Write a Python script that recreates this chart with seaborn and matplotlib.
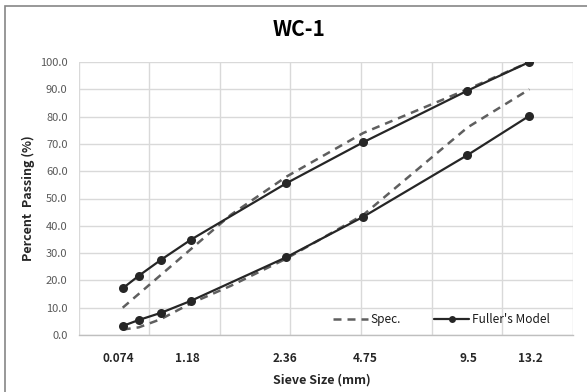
import numpy as np
import pandas as pd
import matplotlib
matplotlib.use("Agg")
import matplotlib.pyplot as plt
from matplotlib.lines import Line2D
from matplotlib.patches import Rectangle
import seaborn as sns

# Sieve sizes (mm) and percent passing
fuller_sizes = [0.075, 0.15, 0.3, 0.6, 2.36, 4.75, 9.5, 13.2]
fuller_upper = [17.1, 21.7, 27.5, 34.9, 55.6, 70.6, 89.5, 100.0]
fuller_lower = [3.3, 5.5, 8.1, 12.5, 28.5, 43.3, 65.9, 80.3]

spec_upper_sizes = [0.075, 1.18, 2.36, 4.75, 9.5, 13.2]
spec_upper = [10.0, 44.0, 58.0, 74.0, 90.0, 100.0]
spec_lower_sizes = [0.075, 0.15, 0.3, 0.6, 1.18, 2.36, 4.75, 9.5, 13.2]
spec_lower = [2.0, 2.8, 5.8, 11.6, 18.0, 28.0, 44.0, 76.0, 90.0]

tick_labels = ["0.074", "1.18", "2.36", "4.75", "9.5", "13.2"]
y_ticks = [0, 10, 20, 30, 40, 50, 60, 70, 80, 90, 100]

POWER = 0.45  # 0.45-power gradation chart


def frame(sizes, values):
    return pd.DataFrame({"x": np.power(sizes, POWER), "y": values})


sns.set_theme(style="white")
plt.rcParams["font.family"] = ["Noto Sans CJK KR", "DejaVu Sans"]

fig = plt.figure(figsize=(5.87, 3.92), dpi=100)
ax = fig.add_axes([78.7 / 587, 1 - 335 / 392, (572.7 - 78.7) / 587, (335 - 62) / 392])

spec_kw = dict(color="#5f5f5f", linewidth=1.8, dashes=(3.2, 2.4), estimator=None, sort=False)
full_kw = dict(color="#262626", linewidth=1.6, marker="o", markersize=6.5,
               markeredgewidth=0, estimator=None, sort=False)

sns.lineplot(data=frame(spec_upper_sizes, spec_upper), x="x", y="y", ax=ax, **spec_kw)
sns.lineplot(data=frame(spec_lower_sizes, spec_lower), x="x", y="y", ax=ax, **spec_kw)
sns.lineplot(data=frame(fuller_sizes, fuller_upper), x="x", y="y", ax=ax, **full_kw)
sns.lineplot(data=frame(fuller_sizes, fuller_lower), x="x", y="y", ax=ax, **full_kw)

ax.set_xlim(0, 3.5)
ax.set_ylim(0, 100)
ax.set_xticks(np.arange(0, 3.51, 0.5), minor=True)
ax.set_xticks([0.28, 0.77, 1.46, 2.03, 2.76, 3.20])
ax.set_xticklabels(tick_labels, fontsize=8.5, fontweight="bold", color="#262626")
ax.set_yticks(y_ticks)
ax.set_yticklabels([f"{v:.1f}" for v in y_ticks], fontsize=8, color="#595959")
ax.tick_params(axis="x", which="both", length=0, pad=12)
ax.tick_params(axis="y", length=0, pad=8)
ax.grid(False)
ax.grid(True, axis="x", which="minor", color="#d9d9d9", linewidth=1)
ax.grid(True, axis="y", which="major", color="#d9d9d9", linewidth=1)
ax.set_axisbelow(True)
for side in ["top", "right", "left"]:
    ax.spines[side].set_visible(False)
ax.spines["bottom"].set_color("#bfbfbf")
ax.spines["bottom"].set_linewidth(1)
ax.set_xlabel("")
ax.set_ylabel("")

handles = [
    Line2D([], [], color="#5f5f5f", linewidth=1.8, linestyle=(0, (3.2, 2.4))),
    Line2D([], [], color="#262626", linewidth=1.6, marker="o", markersize=5, markeredgewidth=0),
]
leg = ax.legend(handles, ["Spec.", "Fuller's Model"], loc="center right",
                bbox_to_anchor=(0.975, 0.055), ncol=2, frameon=False, fontsize=8.5,
                handlelength=3.0, handletextpad=0.2, columnspacing=2.8)
for t in leg.get_texts():
    t.set_color("#1a1a1a")

fig.text(299 / 587, 1 - 29 / 392, "WC-1", ha="center", va="center",
         fontsize=15, fontweight="bold", color="#000000")
fig.text(322 / 587, 1 - 380 / 392, "Sieve Size (mm)", ha="center", va="center",
         fontsize=9, fontweight="bold", color="#262626")
fig.text(28 / 587, 1 - 198 / 392, "Percent  Passing (%)", ha="center", va="center",
         rotation=90, fontsize=9, fontweight="bold", color="#262626")

fig.patches.append(Rectangle((5 / 587, -0.1), 1.2, 1.1 - 6 / 392, transform=fig.transFigure,
                             fill=False, edgecolor="#868686", linewidth=1.2))

fig.savefig("out.png", dpi=100)
